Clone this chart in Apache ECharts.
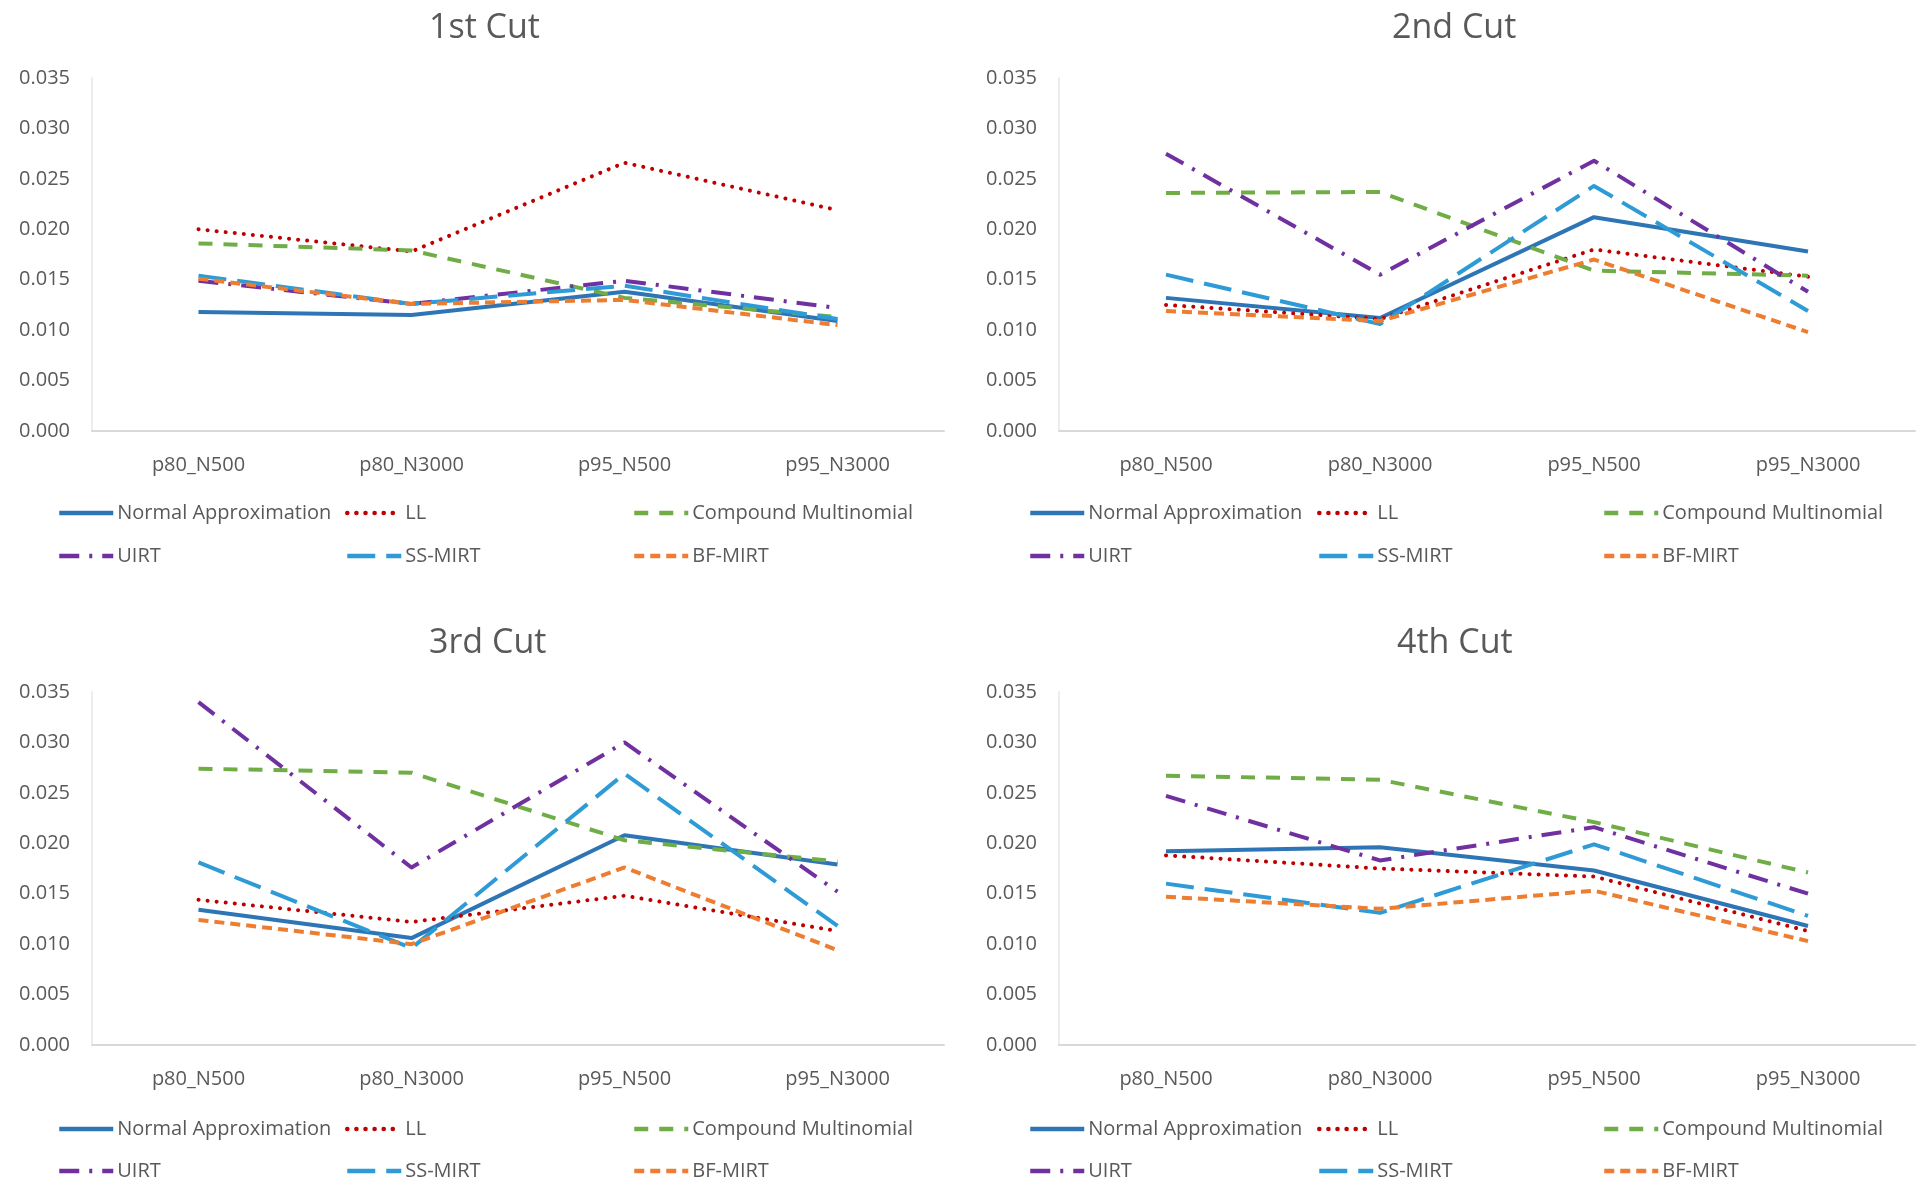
<!DOCTYPE html>
<html>
<head>
<meta charset="utf-8">
<title>Cut score comparison</title>
<script src="https://cdn.jsdelivr.net/npm/echarts@6/dist/echarts.min.js"></script>
<style>
  html, body { margin: 0; padding: 0; background: #ffffff; }
  #chart { width: 1918px; height: 1182px; }
</style>
</head>
<body>
<div id="chart"></div>
<script>
// Conditions on the category axis
const categories = ['p80_N500', 'p80_N3000', 'p95_N500', 'p95_N3000'];

// Method names (legend order)
const methodNames = ['Normal Approximation', 'LL', 'Compound Multinomial', 'UIRT', 'SS-MIRT', 'BF-MIRT'];

// Y-axis ticks
const yTickMin = 0;
const yTickMax = 0.035;
const yTickStep = 0.005;

// 1st cut
const cut1Normal   = [0.0118, 0.0115, 0.0138, 0.0109];
const cut1LL       = [0.0200, 0.0178, 0.0266, 0.0219];
const cut1Compound = [0.0186, 0.0179, 0.0132, 0.0113];
const cut1UIRT     = [0.0149, 0.0126, 0.0149, 0.0122];
const cut1SSMIRT   = [0.0154, 0.0126, 0.0144, 0.0111];
const cut1BFMIRT   = [0.0151, 0.0126, 0.0130, 0.0105];

// 2nd cut
const cut2Normal   = [0.0132, 0.0112, 0.0212, 0.0178];
const cut2LL       = [0.0125, 0.0111, 0.0180, 0.0153];
const cut2Compound = [0.0236, 0.0237, 0.0159, 0.0154];
const cut2UIRT     = [0.0275, 0.0155, 0.0268, 0.0138];
const cut2SSMIRT   = [0.0155, 0.0106, 0.0243, 0.0119];
const cut2BFMIRT   = [0.0119, 0.0109, 0.0170, 0.0098];

// 3rd cut
const cut3Normal   = [0.0134, 0.0106, 0.0208, 0.0179];
const cut3LL       = [0.0144, 0.0122, 0.0148, 0.0113];
const cut3Compound = [0.0274, 0.0270, 0.0203, 0.0182];
const cut3UIRT     = [0.0340, 0.0176, 0.0300, 0.0152];
const cut3SSMIRT   = [0.0181, 0.0096, 0.0269, 0.0118];
const cut3BFMIRT   = [0.0124, 0.0100, 0.0176, 0.0094];

// 4th cut
const cut4Normal   = [0.0192, 0.0196, 0.0173, 0.0118];
const cut4LL       = [0.0188, 0.0175, 0.0167, 0.0113];
const cut4Compound = [0.0267, 0.0263, 0.0221, 0.0171];
const cut4UIRT     = [0.0247, 0.0183, 0.0216, 0.0150];
const cut4SSMIRT   = [0.0160, 0.0131, 0.0199, 0.0128];
const cut4BFMIRT   = [0.0147, 0.0135, 0.0153, 0.0103];

const panelTitles = ['1st Cut', '2nd Cut', '3rd Cut', '4th Cut'];
const panelSeries = [
  [cut1Normal, cut1LL, cut1Compound, cut1UIRT, cut1SSMIRT, cut1BFMIRT],
  [cut2Normal, cut2LL, cut2Compound, cut2UIRT, cut2SSMIRT, cut2BFMIRT],
  [cut3Normal, cut3LL, cut3Compound, cut3UIRT, cut3SSMIRT, cut3BFMIRT],
  [cut4Normal, cut4LL, cut4Compound, cut4UIRT, cut4SSMIRT, cut4BFMIRT]
];

// Line styling per method
const methodStyles = [
  { color: '#2E75B6', width: 4, type: 'solid', cap: 'butt' },
  { color: '#C00000', width: 4, type: [0.1, 9], cap: 'round' },
  { color: '#70AD47', width: 4, type: [14, 11], cap: 'butt' },
  { color: '#7030A0', width: 4, type: [20, 10, 3, 10], cap: 'butt' },
  { color: '#2E9BD6', width: 4, type: [28, 11], cap: 'butt' },
  { color: '#ED7D31', width: 4, type: [10, 6], cap: 'butt' }
];

// Panel placement (pixels)
const panelLayout = [
  { gridLeft: 92,   gridTop: 78,  gridWidth: 852, titleCx: 486,  titleTop: 11,  legendX: [57, 345, 632],     legendY: [514, 557] },
  { gridLeft: 1059, gridTop: 78,  gridWidth: 856, titleCx: 1449, titleTop: 11,  legendX: [1028, 1317, 1602], legendY: [514, 557] },
  { gridLeft: 92,   gridTop: 692, gridWidth: 852, titleCx: 486,  titleTop: 626, legendX: [57, 345, 632],     legendY: [1130, 1172] },
  { gridLeft: 1059, gridTop: 692, gridWidth: 856, titleCx: 1454, titleTop: 626, legendX: [1028, 1317, 1602], legendY: [1130, 1172] }
];
const gridHeight = 353;

const textColor = '#595959';
const fontFamily = '"Open Sans", "Noto Sans", sans-serif';
const axisLineColor = '#D9D9D9';

const titles = [], grids = [], xAxes = [], yAxes = [], series = [], legends = [];

panelLayout.forEach((p, i) => {
  titles.push({
    text: panelTitles[i],
    left: p.titleCx - 57,
    top: p.titleTop,
    padding: 0,
    textStyle: { fontFamily: fontFamily, fontSize: 34, fontWeight: 'normal', color: textColor }
  });

  grids.push({ left: p.gridLeft, top: p.gridTop, width: p.gridWidth, height: gridHeight, containLabel: false });

  xAxes.push({
    type: 'category',
    gridIndex: i,
    data: categories,
    boundaryGap: true,
    axisLine: { show: true, lineStyle: { color: axisLineColor, width: 2 } },
    axisTick: { show: false },
    axisLabel: { color: textColor, fontFamily: fontFamily, fontSize: 20, margin: 24 },
    splitLine: { show: false }
  });

  yAxes.push({
    type: 'value',
    gridIndex: i,
    min: yTickMin,
    max: yTickMax,
    interval: yTickStep,
    axisLine: { show: true, lineStyle: { color: '#EDEDED', width: 2 } },
    axisTick: { show: false },
    splitLine: { show: false },
    axisLabel: {
      color: textColor, fontFamily: fontFamily, fontSize: 20, margin: 22,
      formatter: v => v.toFixed(3)
    }
  });

  panelSeries[i].forEach((values, k) => {
    const st = methodStyles[k];
    series.push({
      name: methodNames[k],
      type: 'line',
      xAxisIndex: i,
      yAxisIndex: i,
      data: values,
      symbol: 'none',
      showSymbol: false,
      silent: true,
      color: st.color,
      lineStyle: { color: st.color, width: st.width, type: st.type, cap: st.cap, join: 'round' }
    });
  });

  // legend laid out as a 3-column grid, one legend component per entry
  methodNames.forEach((name, k) => {
    const col = k % 3, row = Math.floor(k / 3);
    legends.push({
      data: [name],
      left: p.legendX[col],
      top: p.legendY[row] - 11,
      padding: 0,
      itemWidth: 54,
      itemHeight: 14,
      itemGap: 0,
      selectedMode: false,
      itemStyle: { opacity: 0 },
      lineStyle: { width: 4.5 },
      textStyle: { color: textColor, fontFamily: fontFamily, fontSize: 20, padding: [0, 0, 0, -1] }
    });
  });
});

const chart = echarts.init(document.getElementById('chart'), null, { renderer: 'canvas' });
chart.setOption({
  backgroundColor: '#ffffff',
  animation: false,
  title: titles,
  grid: grids,
  xAxis: xAxes,
  yAxis: yAxes,
  legend: legends,
  series: series
});
</script>
</body>
</html>
